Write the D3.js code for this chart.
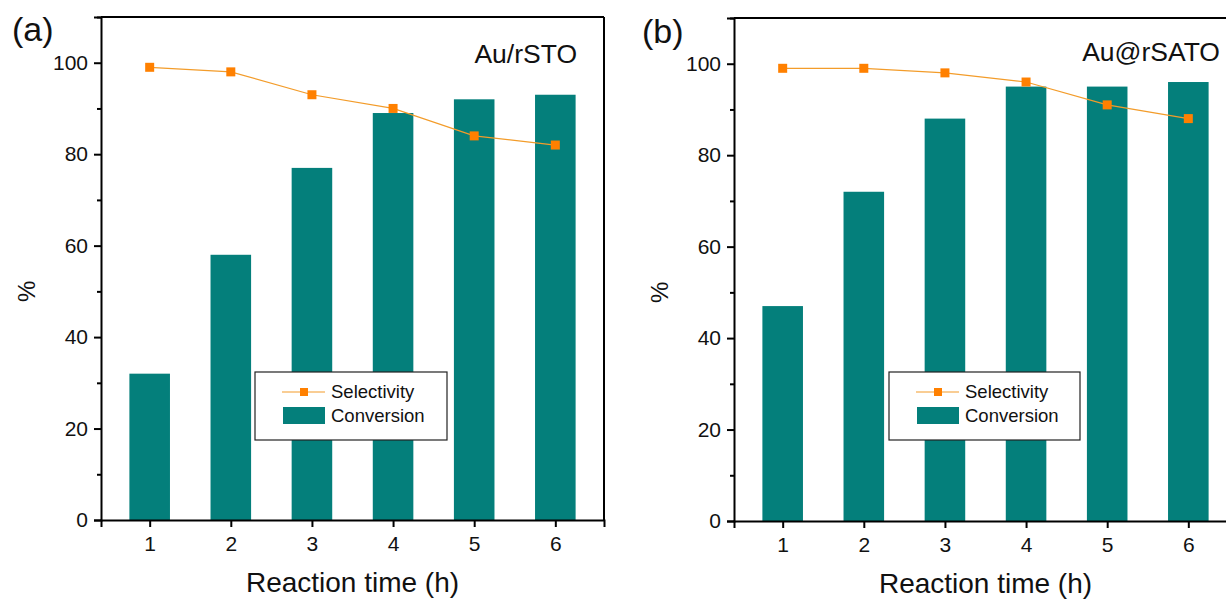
<!DOCTYPE html>
<meta charset="utf-8">
<script src="https://d3js.org/d3.v7.min.js"></script>
<style>
  body { margin: 0; background: #fff; }
  svg text { font-family: "Liberation Sans", Arial, sans-serif; fill: #111; }
</style>
<div id="chart"></div>
<script>

var hours = [1, 2, 3, 4, 5, 6];
var yTicks = [0, 20, 40, 60, 80, 100];

// panel (a) Au/rSTO
var convA = [32, 58, 77, 89, 92, 93];
var selA  = [99, 98, 93, 90, 84, 82];

// panel (b) Au@rSATO
var convB = [47, 72, 88, 95, 95, 96];
var selB  = [99, 99, 98, 96, 91, 88];

var svg = d3.select("#chart").append("svg")
  .attr("width", 1226)
  .attr("height", 601);

function drawPanel(opt) {
  var g = svg.append("g")
    .attr("transform", "translate(" + opt.left + "," + opt.top + ")");

  var width = 503, height = opt.height;

  var x = d3.scaleLinear().domain([0.4, 6.6]).range([0, width]);
  var y = d3.scaleLinear().domain([0, 110]).range([height, 0]);

  // bars
  g.selectAll("rect.bar")
    .data(opt.conv)
    .enter().append("rect")
      .attr("class", "bar")
      .attr("x", function(d, i) { return x(hours[i] - 0.25); })
      .attr("width", x(1.5) - x(1))
      .attr("y", function(d) { return y(d); })
      .attr("height", function(d) { return y(0) - y(d); })
      .attr("fill", "#047F7B");

  // selectivity line
  g.append("path")
    .datum(opt.sel)
    .attr("fill", "none")
    .attr("stroke", "#F39C2A")
    .attr("stroke-width", 1.2)
    .attr("d", d3.line()
      .x(function(d, i) { return x(hours[i]); })
      .y(function(d) { return y(d); }));

  g.selectAll("rect.pt")
    .data(opt.sel)
    .enter().append("rect")
      .attr("class", "pt")
      .attr("x", function(d, i) { return x(hours[i]) - 4.5; })
      .attr("y", function(d) { return y(d) - 4.5; })
      .attr("width", 9)
      .attr("height", 9)
      .attr("fill", "#FF8000");

  // frame
  g.append("line").attr("x1", 0).attr("x2", width).attr("y1", 0).attr("y2", 0)
    .attr("stroke", "#000").attr("stroke-width", 2);
  g.append("line").attr("x1", width).attr("x2", width).attr("y1", 0).attr("y2", height)
    .attr("stroke", "#000").attr("stroke-width", 2);

  // axes
  var xa = g.append("g")
    .attr("transform", "translate(0," + height + ")")
    .call(d3.axisBottom(x).tickValues(hours).tickSize(7).tickPadding(9).tickFormat(d3.format("d")));
  var ya = g.append("g")
    .call(d3.axisLeft(y).tickValues(yTicks).tickSize(7).tickPadding(6));
  // minor ticks
  g.append("g")
    .call(d3.axisLeft(y).tickValues([10, 30, 50, 70, 90, 110]).tickSize(4).tickFormat(""))
    .select(".domain").remove();

  [xa, ya].forEach(function(a) {
    a.attr("font-size", 21);
    a.select(".domain").attr("stroke-width", 2).attr("stroke", "#000");
    a.selectAll(".tick text").style("font-size", "21px").attr("fill", "#111");
  });
  g.selectAll(".tick line").attr("stroke-width", 2);

  // titles
  g.append("text")
    .attr("x", x(3.5))
    .attr("y", height + 72)
    .attr("text-anchor", "middle")
    .style("font-size", "28px")
    .text("Reaction time (h)");

  g.append("text")
    .attr("transform", "translate(" + (-66) + "," + y(50) + ") rotate(-90)")
    .attr("text-anchor", "middle")
    .style("font-size", "24px")
    .text("%");

  g.append("text")
    .attr("x", opt.tagX)
    .attr("y", opt.tagY)
    .style("font-size", "34px")
    .text(opt.tag);

  g.append("text")
    .attr("x", opt.nameX)
    .attr("y", opt.nameY)
    .attr("text-anchor", "end")
    .style("font-size", "26.5px")
    .text(opt.name);

  // legend
  var lg = g.append("g").attr("transform", "translate(" + opt.legX + "," + (372 - opt.top) + ")");
  lg.append("rect")
    .attr("width", opt.legW).attr("height", 68)
    .attr("fill", "#fff").attr("stroke", "#222").attr("stroke-width", 1.2);
  lg.append("line").attr("x1", 27).attr("x2", 70).attr("y1", 20).attr("y2", 20)
    .attr("stroke", "#F39C2A").attr("stroke-width", 1.2);
  lg.append("rect").attr("x", 45).attr("y", 16).attr("width", 8).attr("height", 8).attr("fill", "#FF8000");
  lg.append("text").attr("x", 76).attr("y", 26).style("font-size", "18.5px").text("Selectivity");
  lg.append("rect").attr("x", 28).attr("y", 35).attr("width", 42).attr("height", 17).attr("fill", "#047F7B");
  lg.append("text").attr("x", 76).attr("y", 50).style("font-size", "18.5px").text("Conversion");
}

drawPanel({ left: 101, top: 17, height: 503, conv: convA, sel: selA, tag: "(a)", tagX: -89, tagY: 24,
  name: "Au/rSTO", nameX: 476, nameY: 46, legX: 154, legW: 192 });
drawPanel({ left: 734, top: 18, height: 503, conv: convB, sel: selB, tag: "(b)", tagX: -92, tagY: 25,
  name: "Au@rSATO", nameX: 486, nameY: 43, legX: 155, legW: 191 });

</script>
